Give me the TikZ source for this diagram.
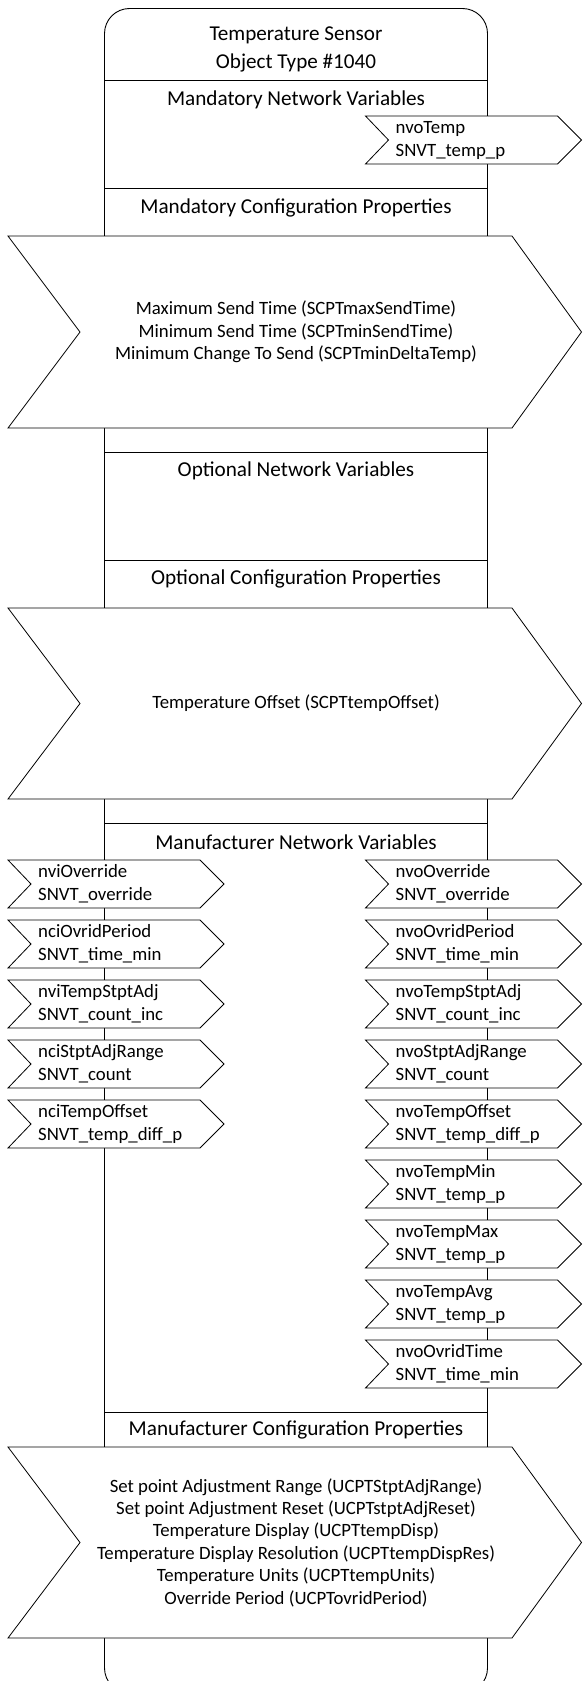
\documentclass[tikz,border=0pt]{standalone}
\usepackage{fontspec}
\setmainfont{Carlito}
\usetikzlibrary{calc}
\newlength{\probew}
\newcommand{\fitsize}[3]{% macro, target width, sample text
  \settowidth{\probew}{\fontsize{10}{12}\selectfont #3}%
  \pgfmathsetmacro{\fitresult}{10*#2/\probew}%
  \global\let#1\fitresult}
\tikzset{
  frame/.style={draw=black, line width=0.9pt},
  sepline/.style={draw=black, line width=0.9pt},
  shapefill/.style={draw=black, fill=white, line width=0.8pt, line join=miter},
  ttl/.style={inner sep=0pt, font=\fontsize{\ttlsize}{28}\selectfont, align=center},
  hdr/.style={inner sep=0pt, font=\fontsize{\hdrsize}{27}\selectfont, align=center},
  body/.style={inner sep=0pt, font=\fontsize{\bodysize}{22.4}\selectfont, align=center},
  nvtext/.style={inner sep=0pt, font=\fontsize{\nvsize}{23}\selectfont, align=left, anchor=west},
}
\newcommand{\chev}[3]{%
  \filldraw[shapefill] (8,#2) -- (512,#2) -- (581.5,{(#2+#3)/2}) -- (512,#3) -- (8,#3) -- (80,{(#2+#3)/2}) -- cycle;
  \coordinate (#1) at (296,{(#2+#3)/2});}
\newcommand{\nvbox}[5]{%
  \filldraw[shapefill] (#2,#3) -- ++(192,0) -- ++(24,24) -- ++(-24,24) -- ++(-192,0) -- ++(23,-24) -- cycle;
  \node[nvtext] (#1) at ({#2+30},{#3+24}) {#4\\#5};}
\newcommand{\sepat}[2]{%
  \coordinate (#1L) at (104.5,#2); \coordinate (#1R) at (487.5,#2);
  \draw[sepline] (#1L) -- (#1R);}
\begin{document}
\fitsize{\ttlsize}{173}{Temperature Sensor}%
\fitsize{\hdrsize}{258}{Mandatory Network Variables}%
\fitsize{\bodysize}{398}{Temperature Display Resolution (UCPTtempDispRes)}%
\fitsize{\nvsize}{144}{SNVT\_temp\_diff\_p}%
\begin{tikzpicture}[x=1pt,y=-1pt]
\useasboundingbox (0,0) rectangle (582,1681);
\clip (0,0) rectangle (582,1681);
% main object frame
\draw[frame, rounded corners=25pt] (104.5,8.5) rectangle (487.5,1693);
\node[ttl] (title) at (296,49) {Temperature Sensor\\Object Type \#1040};
% separators
\sepat{s1}{80}
\sepat{s2}{188}
\sepat{s3}{452}
\sepat{s4}{560}
\sepat{s5}{823}
\sepat{s6}{1412}
% section headings
\node[hdr] (mnv) at (296,100) {Mandatory Network Variables};
\node[hdr] (mcp) at (296,208) {Mandatory Configuration Properties};
\node[hdr] (onv) at (296,471) {Optional Network Variables};
\node[hdr] (ocp) at (296,579) {Optional Configuration Properties};
\node[hdr] (fnv) at (296,842) {Manufacturer Network Variables};
\node[hdr] (fcp) at (296,1430) {Manufacturer Configuration Properties};
% mandatory nv
\nvbox{nvoTemp}{365.5}{116}{nvoTemp}{SNVT\_temp\_p}
% chevrons
\chev{c1}{236}{428}
\node[body] (c1t) at (c1) {Maximum Send Time (SCPTmaxSendTime)\\Minimum Send Time (SCPTminSendTime)\\Minimum Change To Send (SCPTminDeltaTemp)};
\chev{c2}{608}{799}
\node[body] (c2t) at (c2) {Temperature Offset (SCPTtempOffset)};
\chev{c3}{1447}{1638}
\node[body] (c3t) at (c3) {Set point Adjustment Range (UCPTStptAdjRange)\\Set point Adjustment Reset (UCPTstptAdjReset)\\Temperature Display (UCPTtempDisp)\\Temperature Display Resolution (UCPTtempDispRes)\\Temperature Units (UCPTtempUnits)\\Override Period (UCPTovridPeriod)};
% manufacturer inputs
\nvbox{l1}{8}{860}{nviOverride}{SNVT\_override}
\nvbox{l2}{8}{920}{nciOvridPeriod}{SNVT\_time\_min}
\nvbox{l3}{8}{980}{nviTempStptAdj}{SNVT\_count\_inc}
\nvbox{l4}{8}{1040}{nciStptAdjRange}{SNVT\_count}
\nvbox{l5}{8}{1100}{nciTempOffset}{SNVT\_temp\_diff\_p}
% manufacturer outputs
\nvbox{r1}{365.5}{860}{nvoOverride}{SNVT\_override}
\nvbox{r2}{365.5}{920}{nvoOvridPeriod}{SNVT\_time\_min}
\nvbox{r3}{365.5}{980}{nvoTempStptAdj}{SNVT\_count\_inc}
\nvbox{r4}{365.5}{1040}{nvoStptAdjRange}{SNVT\_count}
\nvbox{r5}{365.5}{1100}{nvoTempOffset}{SNVT\_temp\_diff\_p}
\nvbox{r6}{365.5}{1160}{nvoTempMin}{SNVT\_temp\_p}
\nvbox{r7}{365.5}{1220}{nvoTempMax}{SNVT\_temp\_p}
\nvbox{r8}{365.5}{1280}{nvoTempAvg}{SNVT\_temp\_p}
\nvbox{r9}{365.5}{1340}{nvoOvridTime}{SNVT\_time\_min}
\end{tikzpicture}
\end{document}
